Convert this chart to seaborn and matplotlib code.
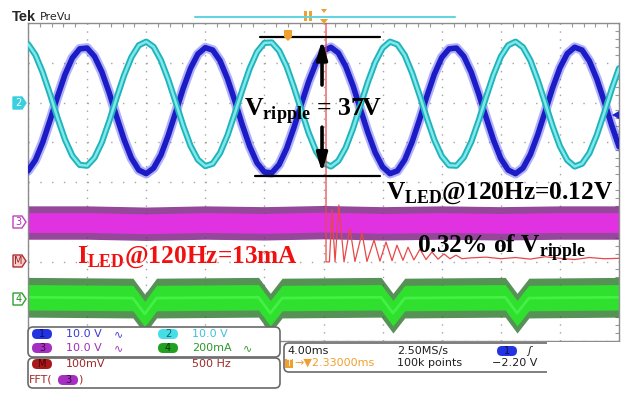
import numpy as np
import matplotlib
matplotlib.use('Agg')
import matplotlib.pyplot as plt
import matplotlib.transforms as mtransforms
from matplotlib.patches import FancyBboxPatch, Polygon, Rectangle
from matplotlib.lines import Line2D
import seaborn as sns

# eixo de tempo (ms), 4 ms/div, amostras lidas a cada 0.5 ms
tempo_ms = np.arange(0, 40.01, 0.5)

# canal 1 (azul) em divisoes
ch1_div = [0.28, 0.55, 1.00, 1.56, 2.15, 2.70, 3.12, 3.35, 3.37, 3.16,
           2.77, 2.24, 1.64, 1.07, 0.60, 0.30, 0.21, 0.35, 0.68, 1.18,
           1.76, 2.35, 2.86, 3.22, 3.38, 3.32, 3.05, 2.60, 2.04, 1.44,
           0.90, 0.48, 0.25, 0.23, 0.44, 0.84, 1.37, 1.96, 2.53, 3.00,
           3.30, 3.39, 3.25, 2.91, 2.42, 1.83, 1.25, 0.74, 0.38, 0.21,
           0.28, 0.56, 1.01, 1.57, 2.16, 2.71, 3.13, 3.35, 3.37, 3.16,
           2.76, 2.22, 1.63, 1.06, 0.59, 0.30, 0.21, 0.35, 0.69, 1.19,
           1.77, 2.36, 2.87, 3.23, 3.39, 3.32, 3.04, 2.59, 2.03, 1.43,
           0.89]

# canal 2 (ciano)
ch2_div = [3.47, 3.20, 2.75, 2.20, 1.61, 1.07, 0.66, 0.43, 0.41, 0.61,
           1.00, 1.53, 2.12, 2.68, 3.14, 3.44, 3.53, 3.40, 3.06, 2.57,
           2.00, 1.42, 0.91, 0.56, 0.40, 0.46, 0.73, 1.17, 1.73, 2.31,
           2.85, 3.27, 3.50, 3.51, 3.30, 2.91, 2.38, 1.80, 1.23, 0.77,
           0.48, 0.39, 0.53, 0.86, 1.35, 1.93, 2.51, 3.01, 3.37, 3.53,
           3.46, 3.19, 2.74, 2.19, 1.60, 1.06, 0.65, 0.42, 0.41, 0.62,
           1.01, 1.54, 2.13, 2.69, 3.15, 3.44, 3.53, 3.39, 3.06, 2.56,
           1.99, 1.41, 0.90, 0.55, 0.39, 0.46, 0.73, 1.18, 1.74, 2.33,
           2.86]

# canal 3 (magenta) - nivel medio da faixa
ch3_t = [0, 4, 8, 12, 16, 20, 24, 28, 32, 36, 40]
ch3_div = [-1.02, -1.02, -1.05, -1.02, -1.04, -1.01, -1.04, -1.02, -1.04, -1.02, -1.02]

# canal 4 (verde) - nivel medio com os vales a 120 Hz
ch4_t = [0, 7.1, 7.9, 8.7, 15.6, 16.4, 17.2, 23.9, 24.7, 25.5, 32.3, 33.1, 33.9, 40]
ch4_div = [-2.90, -2.92, -3.32, -2.92, -2.90, -3.30, -2.92, -2.90, -3.30, -2.92,
           -2.90, -3.30, -2.92, -2.90]

# traco M (FFT do canal 3)
m_t = [20.17, 20.17, 20.40, 20.58, 20.78, 21.04, 21.39, 21.79, 22.13, 22.61,
       22.94, 23.42, 23.82, 24.23, 24.64, 24.97, 25.38, 25.72, 26.12, 26.53,
       26.94, 27.34, 27.75, 28.16, 28.56, 28.97, 29.37, 29.92, 31.0, 32.0,
       33.0, 34.0, 35.0, 36.0, 37.0, 38.0, 39.0, 40.0]
m_div = [4.0, -2.01, -2.01, -0.70, -2.01, -0.58, -2.01, -1.16, -2.00, -1.28,
         -2.00, -1.46, -1.99, -1.51, -1.98, -1.59, -1.97, -1.64, -1.96, -1.69,
         -1.95, -1.76, -1.94, -1.81, -1.93, -1.84, -1.93, -1.91, -1.89, -1.93,
         -1.90, -1.94, -1.88, -1.92, -1.95, -1.90, -1.93, -1.92]

sns.set_style('white')
plt.rcParams['font.family'] = ['DejaVu Sans']
plt.rcParams['mathtext.fontset'] = 'custom'
plt.rcParams['mathtext.rm'] = 'Liberation Serif'
plt.rcParams['mathtext.bf'] = 'Liberation Serif:bold'

W, H = 623, 393
fig = plt.figure(figsize=(W / 100, H / 100), dpi=100)
ax = fig.add_axes([28 / W, 1 - 341 / H, 591 / W, 318 / H])
# transformacao em pixels (origem no canto superior esquerdo)
px = mtransforms.Affine2D().scale(1, -1).translate(0, H).scale(1 / W, 1 / H) + fig.transFigure

# bandas de ruido
ch3 = np.array(ch3_div)
ax.fill_between(ch3_t, ch3 - 0.42, ch3 + 0.42, color='#7a1a80', alpha=0.8, lw=0, zorder=2)
ax.fill_between(ch3_t, ch3 - 0.25, ch3 + 0.25, color='#e032e0', lw=0, zorder=2)
ch4 = np.array(ch4_div)
ax.fill_between(ch4_t, ch4 - 0.50, ch4 + 0.50, color='#1d6e1d', alpha=0.75, lw=0, zorder=2)
ax.fill_between(ch4_t, ch4 - 0.32, ch4 + 0.32, color='#2fe02f', lw=0, zorder=2)
sns.lineplot(x=ch4_t, y=ch4_div, ax=ax, color='#45f045', linewidth=2, estimator=None, sort=False, zorder=2)

# ondas senoidais
sns.lineplot(x=tempo_ms, y=ch1_div, ax=ax, color='#3c3cf0', linewidth=7, alpha=0.4,
             estimator=None, sort=False, zorder=3)
sns.lineplot(x=tempo_ms, y=ch1_div, ax=ax, color='#1c1cc6', linewidth=4,
             estimator=None, sort=False, zorder=3)
sns.lineplot(x=tempo_ms, y=ch2_div, ax=ax, color='#1fb3bc', linewidth=4.5,
             estimator=None, sort=False, zorder=4)
sns.lineplot(x=tempo_ms, y=ch2_div, ax=ax, color='#80e8e8', linewidth=1.8,
             estimator=None, sort=False, zorder=4)

# FFT
sns.lineplot(x=m_t, y=m_div, ax=ax, color='#e84848', linewidth=0.9,
             estimator=None, sort=False, zorder=5)

# graticula
ax.set_xlim(0, 40)
ax.set_ylim(-4, 4)
ax.set_xticks(np.arange(0, 41, 4))
ax.set_yticks(np.arange(-4, 5, 1))
ax.set_xticks(np.arange(0, 40.01, 0.8), minor=True)
ax.set_yticks(np.arange(-4, 4.01, 0.2), minor=True)
ax.tick_params(which='both', labelbottom=False, labelleft=False, top=True, right=True,
               direction='in', color='#9a9a9a')
ax.tick_params(which='major', length=0)
ax.tick_params(which='minor', length=3, width=0.8)
ax.xaxis.grid(True, which='major', color='#a4a4a4', lw=1, ls=(0, (1, 4.7)))
ax.yaxis.grid(True, which='major', color='#a4a4a4', lw=1, ls=(0, (1, 7.5)))
ax.set_axisbelow(True)
for s in ax.spines.values():
    s.set_color('#8c8c8c')
    s.set_linewidth(1)
ax.set_xlabel('')
ax.set_ylabel('')

# anotacoes do V ripple
ax.plot([15.70, 23.82], [3.65, 3.65], color='black', lw=1.6, zorder=6)
ax.plot([15.36, 23.82], [0.16, 0.16], color='black', lw=1.6, zorder=6)
seta = dict(arrowstyle='-|>,head_width=0.32,head_length=1.1', color='black', lw=2.6,
            shrinkA=0, shrinkB=0)
ax.annotate('', xy=(19.9, 3.57), xytext=(19.9, 2.44), arrowprops=seta, zorder=6)
ax.annotate('', xy=(19.9, 0.24), xytext=(19.9, 1.38), arrowprops=seta, zorder=6)

serif = dict(fontfamily='Liberation Serif', fontweight='bold', va='baseline', ha='left', zorder=7)
ax.text(14.60, 1.68, r'V$_{\mathbf{ripple}}$ = 37V', fontsize=18.6, color='black', **serif)
ax.text(24.25, -0.42, r'V$_{\mathbf{LED}}$@120Hz=0.12V', fontsize=18.3, color='black', **serif)
ax.text(26.30, -1.78, r'0.32% of V$_{\mathbf{ripple}}$', fontsize=18.3, color='black', **serif)
ax.text(3.33, -2.03, r'I$_{\mathbf{LED}}$@120Hz=13mA', fontsize=18.3, color='#f01010', **serif)


def caixa(x, y, w, h, r=5, ec='#6a6a6a', fc='white', lw=1.2, z=5):
    fig.add_artist(FancyBboxPatch((x, y), w, h, boxstyle=f'round,pad=0,rounding_size={r}',
                                  transform=px, fc=fc, ec=ec, lw=lw, zorder=z))


def oval(xc, yc, texto, fc, tc, w=20, h=10):
    caixa(xc - w / 2, yc - h / 2, w, h, r=h / 2, ec='none', fc=fc, z=6)
    fig.text(xc, yc, texto, transform=px, ha='center', va='center', fontsize=7,
             color=tc, zorder=7)


def rotulo(x, y, texto, cor, **kw):
    fig.text(x, y, texto, transform=px, ha='left', va='center', fontsize=8,
             color=cor, zorder=7, **kw)


def marcador(yc, texto, fc, ec, tc):
    fig.add_artist(Polygon([(13, yc - 6), (22, yc - 6), (26, yc), (22, yc + 6), (13, yc + 6)],
                           closed=True, transform=px, fc=fc, ec=ec, lw=1, zorder=6))
    fig.text(18.5, yc, texto, transform=px, ha='center', va='center', fontsize=7,
             color=tc, zorder=7)


# cabecalho
fig.text(12, 17, 'Tek', transform=px, fontfamily='Liberation Sans', fontweight='bold',
         fontsize=10.5, va='center')
fig.text(40, 17, 'PreVu', transform=px, fontsize=8, va='center')
fig.add_artist(Line2D([195, 455], [17, 17], transform=px, color='#62d4e0', lw=1.5))
fig.add_artist(Rectangle((304, 11), 2.6, 10, transform=px, fc='#f0a030', ec='none'))
fig.add_artist(Rectangle((309, 11), 2.6, 10, transform=px, fc='#f0a030', ec='none'))
fig.add_artist(Polygon([(320, 19), (328, 19), (324, 24)], transform=px, fc='#f0a030', ec='none'))
fig.add_artist(Polygon([(321, 9), (327, 9), (324, 13)], transform=px, fc='#f0a030', ec='none'))
fig.add_artist(Polygon([(284, 30), (292, 30), (292, 37), (288, 41), (284, 37)],
                       transform=px, fc='#f0a030', ec='none', zorder=8))
fig.add_artist(Polygon([(612, 115), (619, 111), (619, 119)], transform=px, fc='#2020d0',
                       ec='none', zorder=8))

# marcadores de canal
marcador(103, '2', '#38cfe0', '#38cfe0', 'white')
marcador(222, '3', 'white', '#c040c0', '#b030b0')
marcador(261, 'M', '#f6cccc', '#b03030', '#a02020')
marcador(299, '4', 'white', '#30a030', '#209020')

# paineis inferiores
caixa(28, 327, 252, 30)
caixa(28, 358, 252, 30)
caixa(284, 343, 300, 29)
fig.add_artist(Rectangle((547, 342), 76, 51, transform=px, fc='white', ec='none', zorder=6))

azul, ciano, roxo, verde, vinho = '#3a3ad8', '#3cc4d6', '#a030b8', '#2a9a2a', '#a02828'
oval(42, 334, '1', '#2433e0', '#0c0c60')
rotulo(66, 334, '10.0 V', azul)
rotulo(114, 334, '∿', azul)
oval(168, 334, '2', '#45dde6', '#106060')
rotulo(192, 334, '10.0 V', ciano)
oval(42, 348, '3', '#a52fc0', '#3a0a45')
rotulo(66, 348, '10.0 V', roxo)
rotulo(114, 348, '∿', roxo)
oval(168, 348, '4', '#22a022', '#063806')
rotulo(192, 348, '200mA', verde)
rotulo(243, 348, '∿', verde)

oval(42, 364, 'M', '#a81818', '#4a0000')
rotulo(66, 364, '100mV', vinho)
rotulo(192, 364, '500 Hz', vinho)
rotulo(29, 380, 'FFT(', vinho)
oval(68, 380, '3', '#a52fc0', '#3a0a45')
rotulo(78, 380, ')', vinho)

rotulo(287, 351, '4.00ms', '#202020')
rotulo(397, 351, '2.50MS/s', '#202020')
oval(507, 351, '1', '#2433e0', '#0c0c60')
rotulo(527, 351, 'ʃ', '#202020', fontstyle='italic')
fig.add_artist(Rectangle((285, 359), 8, 9, transform=px, fc='#f0a030', ec='none', zorder=6))
fig.text(289, 363.5, 'T', transform=px, ha='center', va='center', fontsize=6,
         color='white', zorder=7)
rotulo(294, 363, '→▼2.33000ms', '#f0a030')
rotulo(397, 363, '100k points', '#202020')
rotulo(492, 363, '−2.20 V', '#202020')

fig.savefig('out.png', dpi=100)
